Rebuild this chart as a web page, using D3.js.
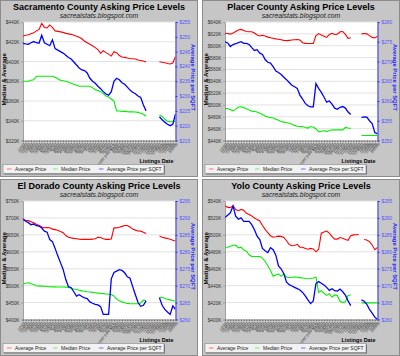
<!DOCTYPE html>
<html><head><meta charset="utf-8">
<script src="https://cdn.jsdelivr.net/npm/d3@7"></script>
<style>body{margin:0;background:#fff}svg{display:block}</style>
</head><body><svg id="c" width="400" height="356"></svg>
<script>
const dates = ["1/7/07","1/14/07","1/21/07","1/28/07","2/4/07","2/11/07","2/18/07","2/25/07","3/4/07","3/11/07","3/18/07","3/25/07","4/1/07","4/8/07","4/15/07","4/22/07","4/29/07","5/6/07","5/13/07","5/20/07","5/27/07","6/3/07","6/10/07","6/17/07","6/24/07","7/1/07","7/8/07","7/15/07","7/22/07","7/29/07","8/5/07","8/12/07","8/19/07","8/26/07","9/2/07 (new MLS)","9/9/07","9/16/07","9/23/07","9/30/07","10/7/07","10/14/07","10/21/07","10/28/07","11/4/07","11/11/07","11/18/07","11/25/07","12/2/07","12/9/07","12/16/07","12/23/07","12/30/07","1/6/08","1/13/08","1/20/08","1/27/08","2/3/08","2/10/08"];

const sacAvg = [425.8,426.5,427,428,429,431,432.5,438.5,434.5,434,437,434.5,431,430.5,430,429.5,428.5,428,427.5,426.5,425.5,424.5,423,420.5,419,417.5,416,414,412,408.5,411,409,407.5,405.5,410,409,406,404.5,404.2,403.5,403,402.8,402.5,401.5,401,400.5,399.5,null,null,null,null,399.8,399.3,398.8,398,397.5,398.5,405];
const sacMed = [380,380,380,381,381.5,385,385,385,385,385,385,385,384,382.5,381,380.5,380,379,378,377,376,375,375,375,375,375,373.5,371.5,370.5,369.5,367.5,365,364,362,360,350,349.8,349.5,349.5,349.2,349,349,348.8,348.5,347.5,346.5,344.5,null,null,null,null,345.5,344.5,341.5,339.5,339,339,339.5];
const sacSqft = [247.8,247.6,247.5,248,248.4,248,247.8,250.5,248,247.5,247,249,246,245.5,245,244.5,243.8,243,242.5,241.5,240.5,239.5,238.8,238.6,237.8,236,235,234.3,233.3,232.5,231.5,230.7,230.3,231.5,235,236,235.5,234.5,234,233,232,231.3,230.8,230,229.5,227,225,null,null,null,null,223,222,221.2,220.5,220,220.5,224];
const sacLeftTicks = [440,420,400,380,360,340,320];
const sacRightTicks = [255,250,245,240,235,230,225,220,215];

const plaAvg = [621,620.5,619.5,621.5,624,626.5,627.5,625.5,624,623.5,623.5,621.5,618,616.5,617.5,616.5,614.5,613.5,612.5,611.5,611,610,609,608.5,609,609.5,610,610.5,609.5,605,604,603.8,603.8,603.8,617,620.5,618,616,614,619,621,619,619.5,623.5,624,619,612.5,613.5,null,null,null,620,620.5,620,617,614,613,616];
const plaMed = [494,494,492,490,493,496.5,497,495.5,493.5,491.5,489.5,489,488,486,484,481.5,479.5,478.5,478.5,476,474,472,471,470,469,467.5,465.5,464,463.7,463.5,462,461,463.5,462.5,460,454.5,455.5,456.5,455.5,457,458,458,458,458,458,462,461,460.5,null,null,null,448.5,448.5,448.5,448.5,448.5,448.5,448.5];
const plaSqft = [275,274.7,273.8,274.3,274.5,274.8,275,274.6,274.6,274.3,273.5,272.8,273,272.1,271.8,270.5,269.8,269.6,268.7,267.6,267.2,266.7,266,265.4,264.7,264,263.6,263.2,261.5,260.5,259.4,258.8,258.5,258.5,264.4,263.2,262.2,261,259.7,260,259.2,258.2,257.9,258.4,258.6,258.2,257.2,256.6,null,null,null,255.8,256,255.9,255,254.3,252,251.7];
const plaLeftTicks = [640,620,600,580,560,540,520,500,480,460,440];
const plaRightTicks = [280,275,270,265,260,255,250];

const eldAvg = [696,693,692,689,685.5,681.5,678,673,671,671.5,671,667,665.5,663.5,660,656.3,648,643,641,639.5,638.6,637.5,636.8,636.6,636.6,636.6,637.5,638.5,643,642,638.5,636.6,636.6,638,671,670.5,672.5,675,677.5,677.5,673,667,664,661.3,661,658,654,null,null,null,null,647,643,641,639,637,634,632];
const eldMed = [505.5,507,508.5,505.5,503.5,499.5,498.6,498.6,498.2,497.5,496.8,496.5,496.4,496.2,496,495.8,495.6,494.5,492.5,490,488.5,486.5,484.5,483.5,482,481,480,479,478,477,476.5,475.5,474.5,473.5,469.5,460,455.5,452,449.5,447.5,446.3,446.3,446.3,446.3,449,457,456,null,null,null,null,466,465,463,460,458,456,454];
const eldSqft = [289.6,289,288.6,288,288.2,287.7,287.6,287,286.1,285.8,283.6,283,281,278.8,276.8,274.8,271.8,269.7,269.4,268.2,266.9,267.3,266.8,266.4,266.2,265.2,264.8,264.5,264.3,263.8,261.5,261.5,261.5,272,273.9,274.3,274.7,274.5,273.8,272.6,272.2,269.7,267.3,265,263.9,264.2,265.5,null,null,null,null,266.4,264.2,263,262.2,261.5,264,263];
const eldLeftTicks = [750,700,650,600,550,500,450,400];
const eldRightTicks = [295,290,285,280,275,270,265,260];

const yolAvg = [534.5,532.5,532.2,534.5,530,528.5,530,529,525.5,524,522.4,520,518,516.5,511,506.5,502.5,499,497.2,497.8,498.5,498.2,497,493,488.5,487.2,487.5,488.8,485.5,485.3,484,483,484,483.3,480,483,502,503.5,504.5,502,498,495,495,496.8,496,494.5,493.5,498.9,500,500.1,500.5,null,494.5,493.9,492,488,482.5,485.3];
const yolMed = [485.3,485.3,486.5,487.8,488,484.5,485.5,482,480.8,476.5,474.5,474.5,474.4,474.3,472.5,468.5,463.5,458,451,452.5,454,451,454,450,449.6,450,450.1,450,449.5,449,448.5,448.1,448.5,449,450,432,434,431,428.5,430.5,426.5,429,428,421.5,420,421,428.5,429,null,null,null,419.6,419.6,419.6,419.6,419.6,419.6,419.6];
const yolSqft = [290.2,290.8,291.5,293.5,290.5,289.6,290,289,289,289,288,286.5,284.6,283.6,281,280.3,279.8,281.2,280.6,279,275.8,274.9,273.5,271,270.3,269.9,269.5,269.1,268.7,268,267,265.8,264.7,265.5,270.6,271.2,270.7,270.2,269.5,268.6,269.1,268.5,268.4,269,268.2,267.2,265.5,264.1,null,null,null,265.8,265.4,264.5,263,261.9,260.7,260];
const yolLeftTicks = [540,520,500,480,460,440,420,400];
const yolRightTicks = [295,290,285,280,275,270,265,260];

const panels = [
  {id:"sac", title:"Sacramento County Asking Price Levels", x0:0, y0:0, avg:sacAvg, med:sacMed, sqft:sacSqft, lt:sacLeftTicks, rt:sacRightTicks},
  {id:"pla", title:"Placer County Asking Price Levels", x0:202, y0:0, avg:plaAvg, med:plaMed, sqft:plaSqft, lt:plaLeftTicks, rt:plaRightTicks},
  {id:"eld", title:"El Dorado County Asking Price Levels", x0:0, y0:179, avg:eldAvg, med:eldMed, sqft:eldSqft, lt:eldLeftTicks, rt:eldRightTicks},
  {id:"yol", title:"Yolo County Asking Price Levels", x0:202, y0:179, avg:yolAvg, med:yolMed, sqft:yolSqft, lt:yolLeftTicks, rt:yolRightTicks}
];

const FONT = "'Liberation Sans', Arial, Helvetica, sans-serif";
const W = 198, H = 177;
const L = 23, R = 175.5, T = 22, B = 140.5;
const svg = d3.select("#c").attr("font-family", FONT);
svg.append("rect").attr("width",400).attr("height",356).attr("fill","#ffffff");
const defs = svg.append("defs");

panels.forEach(p => {
  const g = svg.append("g").attr("transform", `translate(${p.x0},${p.y0})`);
  g.append("rect").attr("x",0.5).attr("y",0.5).attr("width",W-1).attr("height",H-1)
    .attr("fill","#c6c6c6").attr("stroke","#8c8c8c");
  g.append("text").attr("x",W/2).attr("y",10).attr("text-anchor","middle")
    .attr("font-weight","bold").attr("font-size",9).attr("fill","#000").text(p.title);
  g.append("text").attr("x",W/2).attr("y",18).attr("text-anchor","middle")
    .attr("font-style","italic").attr("font-size",6.8).attr("fill","#222").text("sacrealstats.blogspot.com");

  g.append("rect").attr("x",L).attr("y",T).attr("width",R-L).attr("height",B-T).attr("fill","#ffffff");

  const x = d3.scalePoint().domain(dates).range([L,R]);
  const yL = d3.scaleLinear().domain([d3.min(p.lt), d3.max(p.lt)]).range([B,T]);
  const yR = d3.scaleLinear().domain([d3.min(p.rt), d3.max(p.rt)]).range([B,T]);

  g.append("g").selectAll("line").data(p.lt).join("line")
    .attr("x1",L).attr("x2",R).attr("y1",d=>yL(d)).attr("y2",d=>yL(d))
    .attr("stroke","#e2e2e2").attr("stroke-width",1);

  const ax = g.append("g").attr("transform",`translate(${L},0)`)
    .call(d3.axisLeft(yL).tickValues(p.lt).tickFormat(d=>"$"+d+"K").tickSize(2).tickPadding(1.5));
  ax.select(".domain").attr("stroke","#a0a0a0");
  ax.selectAll(".tick line").attr("stroke","#a0a0a0");
  ax.selectAll("text").attr("font-size",4.8).attr("fill","#333").attr("font-family",FONT);

  const ar = g.append("g").attr("transform",`translate(${R},0)`)
    .call(d3.axisRight(yR).tickValues(p.rt).tickFormat(d=>"$"+d).tickSize(2).tickPadding(2));
  ar.select(".domain").attr("stroke","#3333ff").attr("stroke-width",1);
  ar.selectAll(".tick line").attr("stroke","#3333ff");
  ar.selectAll("text").attr("font-size",4.8).attr("fill","#5555ff").attr("font-family",FONT);

  const ab = g.append("g").attr("transform",`translate(0,${B})`)
    .call(d3.axisBottom(x).tickSize(1.5));
  ab.select(".domain").attr("stroke","#a0a0a0");
  ab.selectAll(".tick line").attr("stroke","#666");
  ab.selectAll("text").attr("font-size",3.6).attr("fill","#222").attr("font-family",FONT)
    .attr("x",0).attr("y",0).attr("dy","0.3em").attr("text-anchor","end")
    .attr("transform","translate(1,3) rotate(-52)");

  const cid = "clip-"+p.id;
  defs.append("clipPath").attr("id",cid).append("rect").attr("x",L).attr("y",T-1).attr("width",R-L).attr("height",B-T+1.5);
  const lines = g.append("g").attr("clip-path",`url(#${cid})`);
  const mk = sc => d3.line().defined(d=>d!=null).x((d,i)=>x(dates[i])).y(d=>sc(d));
  lines.append("path").datum(p.avg).attr("d",mk(yL)).attr("fill","none").attr("stroke","#ff0000").attr("stroke-width",1.1);
  lines.append("path").datum(p.med).attr("d",mk(yL)).attr("fill","none").attr("stroke","#00f000").attr("stroke-width",1.1);
  lines.append("path").datum(p.sqft).attr("d",mk(yR)).attr("fill","none").attr("stroke","#0000ff").attr("stroke-width",1.3);

  g.append("text").attr("transform",`translate(5.5,${(T+B)/2-2}) rotate(-90)`).attr("text-anchor","middle")
    .attr("font-weight","bold").attr("font-size",6.1).attr("fill","#000").text("Median & Average");
  g.append("text").attr("transform",`translate(191,${(T+B)/2-4}) rotate(90)`).attr("text-anchor","middle")
    .attr("font-weight","bold").attr("font-size",5.9).attr("fill","#2222ff").text("Average Price per SQFT");

  g.append("text").attr("x",156.5).attr("y",163).attr("text-anchor","middle")
    .attr("font-weight","bold").attr("font-size",5.4).attr("fill","#000").text("Listings Date");

  const lg = g.append("g");
  lg.append("rect").attr("x",4).attr("y",165.5).attr("width",161).attr("height",9).attr("fill","#707070");
  lg.append("rect").attr("x",3).attr("y",164.5).attr("width",161).attr("height",9).attr("fill","#f2f2f2").attr("stroke","#888").attr("stroke-width",0.6);
  const items = [
    {label:"Average Price", color:"#ff8080", x:7},
    {label:"Median Price", color:"#80f080", x:53},
    {label:"Average Price per SQFT", color:"#8080ff", x:99}
  ];
  items.forEach(it => {
    lg.append("line").attr("x1",it.x).attr("x2",it.x+4.5).attr("y1",169).attr("y2",169).attr("stroke",it.color).attr("stroke-width",1.2);
    lg.append("text").attr("x",it.x+8).attr("y",170.8).attr("font-size",5).attr("fill","#222").text(it.label);
  });
});
</script>
</body></html>
